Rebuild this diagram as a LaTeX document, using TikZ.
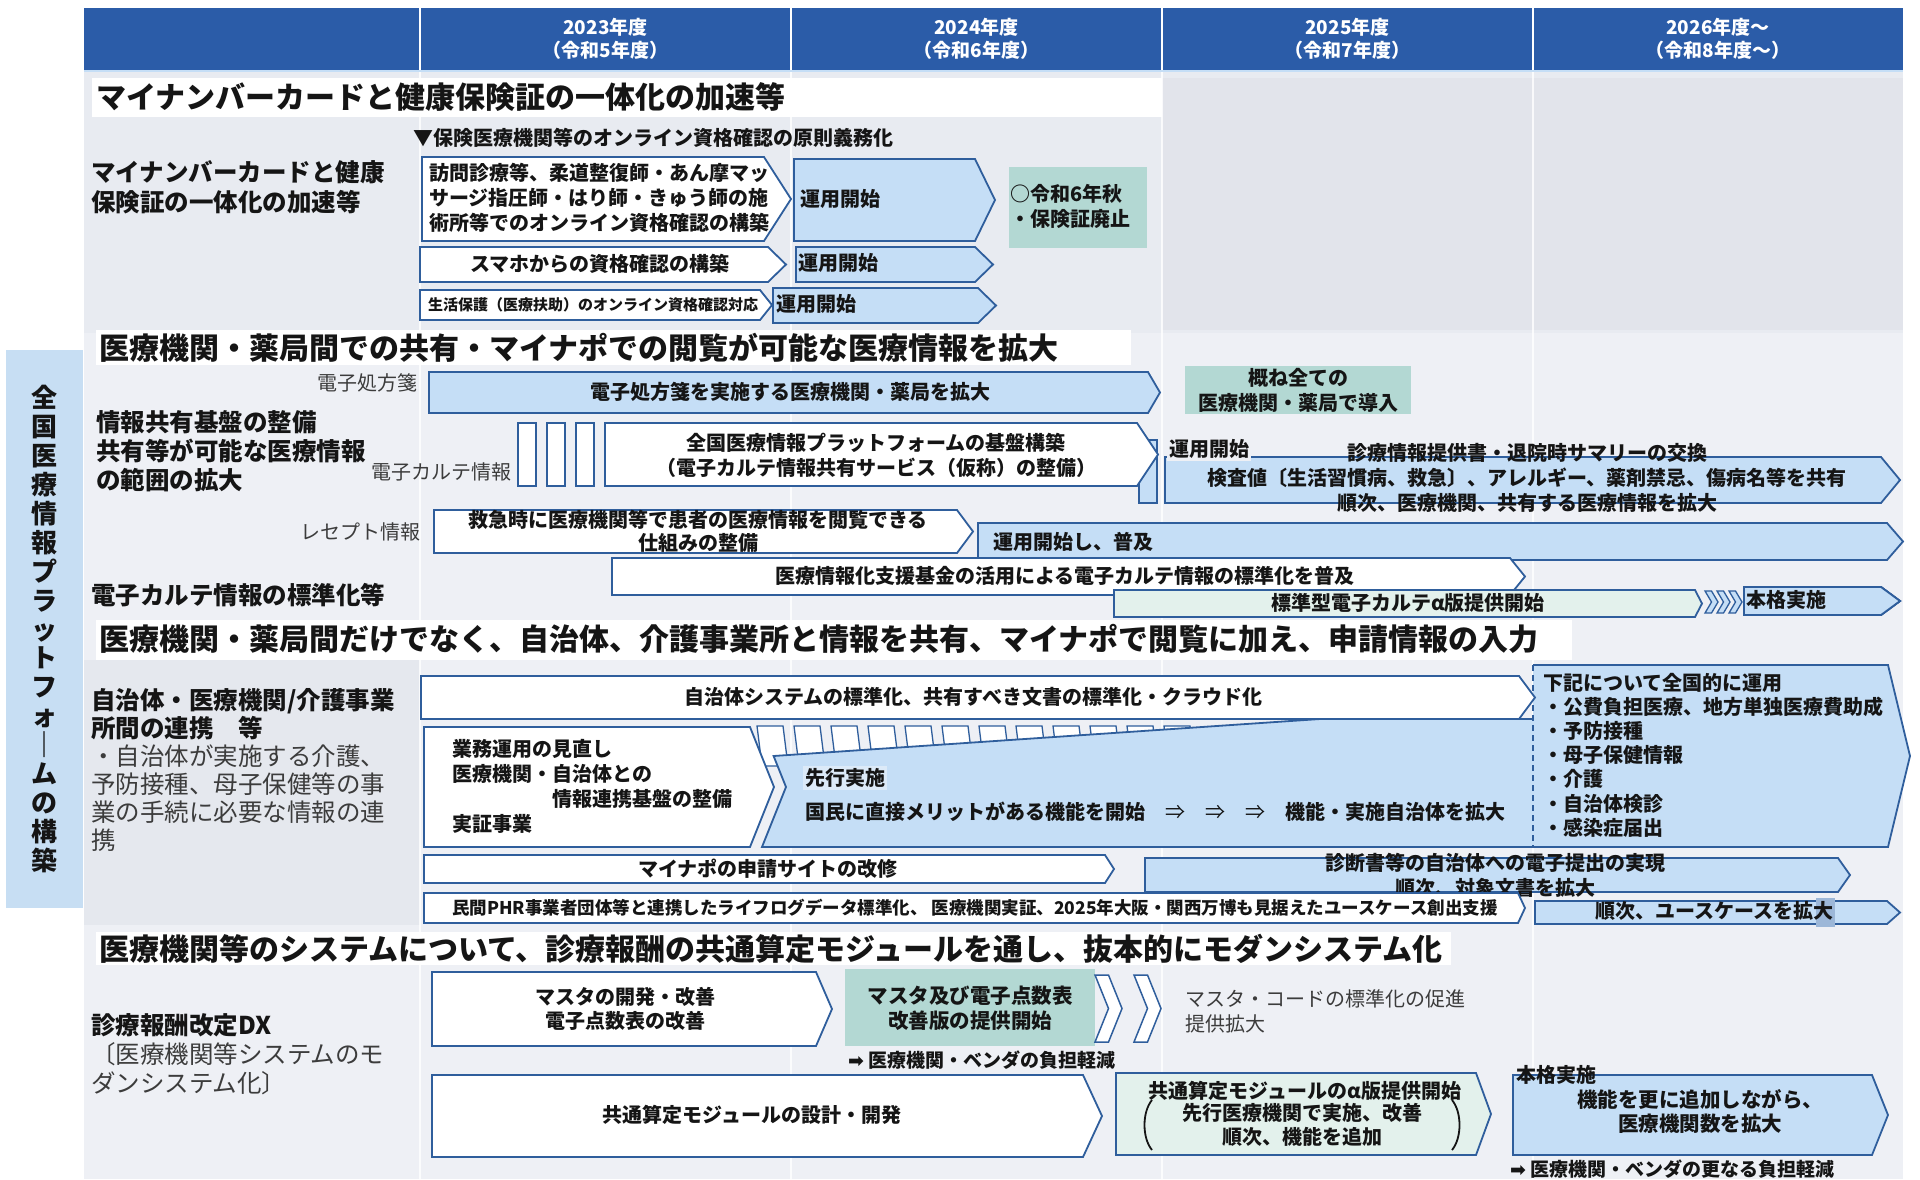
\documentclass[tikz,border=0pt]{standalone}
\usepackage{fontspec}
\setmainfont{Noto Sans CJK JP}
\newfontfamily\dv{DejaVu Sans}
\definecolor{hdr}{HTML}{2B5CA8}
\definecolor{bd}{HTML}{2F5E9C}
\definecolor{bl}{HTML}{C5DEF6}
\definecolor{tealb}{HTML}{B3D8D3}
\definecolor{mint}{HTML}{E3F1EC}
\definecolor{bgA}{HTML}{E8EBF1}
\definecolor{bgB}{HTML}{E2E4EB}
\definecolor{bgC}{HTML}{EEF0F5}
\definecolor{bgD}{HTML}{E5E8EE}
\definecolor{vbar}{HTML}{C7DEF3}
\definecolor{txt}{HTML}{151515}
\definecolor{gtxt}{HTML}{3C3C3C}
\definecolor{sq}{HTML}{9CB7D8}
\definecolor{lbl}{HTML}{DCEAF8}
\newcommand\fb[2]{\bfseries\fontsize{#1}{#2}\selectfont}
\newcommand\fr[2]{\mdseries\fontsize{#1}{#2}\selectfont}
\newcommand\shp[6]{\path[#1] (#2,#3) -- (#4,#3) -- (#5,{(#3+#6)/2}) -- (#4,#6) -- (#2,#6) -- cycle;}
\newcommand\chv[5]{\path[#1] (#2,#3) -- ++(#4,0) -- ++(#4,{(#5-#3)/2}) -- ++(-#4,{(#5-#3)/2}) -- ++(-#4,0) -- ++(#4,{-(#5-#3)/2}) -- cycle;}
\begin{document}
\begin{tikzpicture}[x=1pt,y=-1pt,
 tx/.style={inner sep=0pt,text=txt,font=\fb{20}{25}},
 tl/.style={tx,anchor=west,align=left},
 tc/.style={tx,align=center},
 gl/.style={inner sep=0pt,text=gtxt,font=\fr{20}{25}},
 wb/.style={draw=bd,line width=1.8pt,fill=white},
 bb/.style={draw=bd,line width=1.8pt,fill=bl},
 mb/.style={draw=bd,line width=1.8pt,fill=mint},
 ttl/.style={inner sep=0pt,anchor=west,text=txt,font=\fb{30}{34}},
 lab/.style={inner sep=0pt,anchor=west,align=left,text=txt,font=\fb{24.5}{29}}]
\useasboundingbox (0,0) rectangle (1920,1179);
\fill[white] (0,0) rectangle (1920,1179);
% backgrounds
\fill[bgA] (84,70) rectangle (1903,333);
\fill[bgB] (1162,78) rectangle (1903,330);
\fill[bgC] (84,333) rectangle (1903,1179);
\fill[bgD] (84,660) rectangle (420,925);
\foreach \x in {420,791,1162,1533} \draw[white,line width=1.5pt,opacity=0.8] (\x,70) -- (\x,1179);
% header
\fill[hdr] (84,8) rectangle (1903,70);
\foreach \x in {420,791,1162,1533} \draw[white,line width=2pt] (\x,8) -- (\x,70);
\draw[bl,line width=2pt] (84,71) -- (1903,71);
\node[tc,text=white,font=\fb{19}{23}] (h1) at (605.5,38.5) {2023年度\\（令和5年度）};
\node[tc,text=white,font=\fb{19}{23}] (h2) at (976.5,38.5) {2024年度\\（令和6年度）};
\node[tc,text=white,font=\fb{19}{23}] (h3) at (1347.5,38.5) {2025年度\\（令和7年度）};
\node[tc,text=white,font=\fb{19}{23}] (h4) at (1718,38.5) {2026年度～\\（令和8年度～）};
% section titles
\fill[white] (92,78) rectangle (1162,117);
\node[ttl] (t1) at (96,97.5) {マイナンバーカードと健康保険証の一体化の加速等};
\fill[white] (96,330) rectangle (1131,365);
\node[ttl] (t2) at (99,347.5) {医療機関・薬局間での共有・マイナポでの閲覧が可能な医療情報を拡大};
\fill[white] (96,620) rectangle (1572,660);
\node[ttl] (t3) at (99,639) {医療機関・薬局間だけでなく、自治体、介護事業所と情報を共有、マイナポで閲覧に加え、申請情報の入力};
\fill[white] (96,932) rectangle (1451,965);
\node[ttl] (t4) at (99,948.5) {医療機関等のシステムについて、診療報酬の共通算定モジュールを通し、抜本的にモダンシステム化};
% vertical bar
\fill[vbar] (6,350) rectangle (83,908);
\node[tc,font=\fb{26}{28.9}] (vt) at (44.5,629) {全\\国\\医\\療\\情\\報\\プ\\ラ\\ッ\\ト\\フ\\ォ\\｜\\ム\\の\\構\\築};
% left labels
\node[lab,font=\fb{24.5}{30}] (l1) at (91,187) {マイナンバーカードと健康\\保険証の一体化の加速等};
\node[lab] (l2) at (96,451) {情報共有基盤の整備\\共有等が可能な医療情報\\の範囲の拡大};
\node[lab] (l3) at (91,595) {電子カルテ情報の標準化等};
\node[lab,font=\fb{24.5}{28}] (l4) at (91,770) {自治体・医療機関/介護事業\\所間の連携　等\\{\mdseries\color{gtxt}・自治体が実施する介護、}\\{\mdseries\color{gtxt}予防接種、母子保健等の事}\\{\mdseries\color{gtxt}業の手続に必要な情報の連}\\{\mdseries\color{gtxt}携}};
\node[lab] (l5) at (91,1054) {診療報酬改定DX\\{\mdseries\color{gtxt}〔医療機関等システムのモ}\\{\mdseries\color{gtxt}ダンシステム化〕}};
% row labels
\node[gl,anchor=east] (r1) at (418,383) {電子処方箋};
\node[gl,anchor=east] (r2) at (512,472) {電子カルテ情報};
\node[gl,anchor=east] (r3) at (421,532) {レセプト情報};
% ===== section 1
\node[tl,font=\fb{20}{25}] (s1h) at (413,138) {▼保険医療機関等のオンライン資格確認の原則義務化};
\shp{wb}{422}{157}{764}{791}{241}
\node[tl] (a1) at (429,198) {訪問診療等、柔道整復師・あん摩マッ\\サージ指圧師・はり師・きゅう師の施\\術所等でのオンライン資格確認の構築};
\shp{bb}{794}{159}{975}{995}{241}
\node[tl] (b1) at (800,199) {運用開始};
\fill[tealb] (1009,167) rectangle (1147,248);
\node[tl] (g1) at (1010,206) {○令和6年秋\\・保険証廃止};
\shp{wb}{420}{247}{768}{786}{282}
\node[tc] (c1) at (600,264) {スマホからの資格確認の構築};
\shp{bb}{796}{247}{975}{993}{282}
\node[tl] (d1) at (798,263) {運用開始};
\shp{wb}{420}{290}{760}{772}{320}
\node[tl,font=\fb{15}{18}] (e1) at (428,305) {生活保護（医療扶助）のオンライン資格確認対応};
\shp{bb}{773}{288}{978}{996}{323}
\node[tl] (f1) at (776,304) {運用開始};
% ===== section 2
\shp{bb}{429}{372}{1148}{1160}{413}
\node[tc] (p1) at (790,392) {電子処方箋を実施する医療機関・薬局を拡大};
\fill[tealb] (1185,366) rectangle (1411,414);
\node[tc] (p2) at (1298,390) {概ね全ての\\医療機関・薬局で導入};
\foreach \x in {518,547,576} \path[wb,line width=1.4pt] (\x,423) rectangle ++(18,63);
\path[bb] (1139,440) rectangle (1157,503);
\shp{wb}{605}{423}{1137}{1158}{486}
\node[tc] (k1) at (876,455) {全国医療情報プラットフォームの基盤構築\\（電子カルテ情報共有サービス（仮称）の整備）};
\shp{bb}{1165}{457}{1881}{1900}{503}
\node[tl,fill=bgC,inner sep=2pt] (k2) at (1167,449) {運用開始};
\node[tc] (k3) at (1527,478) {診療情報提供書・退院時サマリーの交換\\検査値〔生活習慣病、救急〕、アレルギー、薬剤禁忌、傷病名等を共有\\順次、医療機関、共有する医療情報を拡大};
\shp{wb}{434}{510}{957}{973}{553}
\node[tc,font=\fb{20}{23}] (q1) at (698,531) {救急時に医療機関等で患者の医療情報を閲覧できる\\仕組みの整備};
\shp{bb}{978}{523}{1887}{1903}{560}
\node[tl] (q2) at (993,542) {運用開始し、普及};
\shp{wb}{612}{558}{1510}{1525}{595}
\node[tc] (q3) at (1065,576) {医療情報化支援基金の活用による電子カルテ情報の標準化を普及};
\shp{mb}{1114}{590}{1695}{1702}{617}
\node[tc] (q4) at (1408,603) {標準型電子カルテα版提供開始};
\foreach \x in {1705,1717,1729} \chv{draw=bd,line width=1.3pt,fill=bl}{\x}{591}{6.5}{613}
\shp{bb}{1744}{587}{1881}{1900}{615}
\node[tl] (q5) at (1746,600) {本格実施};
% ===== section 3
\foreach \i in {0,...,11} {\pgfmathsetmacro\xx{757+37*\i}
 \path[wb,line width=1.3pt] (\xx,726) -- ++(26,0) -- ++(5,40) -- ++(-26,0) -- cycle;}
\fill[bl] (773.6,756) -- (1320,719) -- (1533,719) -- (1533,847) -- (762,847) -- (786,787) -- cycle;
\draw[bd,line width=1.8pt] (1533,847) -- (762,847) -- (786,787) -- (773.6,756) -- (1320,719) -- (1533,719);
\fill[bl] (1533,665) -- (1888,665) -- (1910,756) -- (1888,847) -- (1533,847) -- cycle;
\draw[bd,line width=1.8pt] (1533,665) -- (1888,665) -- (1910,756) -- (1888,847) -- (1533,847);
\draw[bd,line width=1.5pt,dash pattern=on 6pt off 4pt] (1533,665) -- (1533,847);
\shp{wb}{421}{676}{1519}{1535}{719}
\node[tc] (m1) at (973,697) {自治体システムの標準化、共有すべき文書の標準化・クラウド化};
\shp{wb}{424}{727}{750}{774}{847}
\node[tl] (m2) at (452,786) {業務運用の見直し\\医療機関・自治体との\\\hspace{100pt}情報連携基盤の整備\\実証事業};
\node[tl,fill=lbl,inner sep=2pt] (m3) at (803,778) {先行実施};
\node[tl] (m4) at (805,812) {国民に直接メリットがある機能を開始　{\mdseries ⇒}　{\mdseries ⇒}　{\mdseries ⇒}　機能・実施自治体を拡大};
\node[tl,font=\fb{20}{24.2}] (m5) at (1543,755) {下記について全国的に運用\\・公費負担医療、地方単独医療費助成\\・予防接種\\・母子保健情報\\・介護\\・自治体検診\\・感染症届出};
\shp{wb}{424}{855}{1105}{1114}{883}
\node[tc] (m6) at (768,869) {マイナポの申請サイトの改修};
\shp{bb}{1145}{858}{1838}{1850}{892}
\node[tc] (m7) at (1495,875) {診断書等の自治体への電子提出の実現\\順次、対象文書を拡大};
\shp{wb}{424}{893}{1518}{1525}{923}
\node[tl,font=\fb{17.5}{20}] (m8) at (452,908) {民間PHR事業者団体等と連携したライフログデータ標準化、 医療機関実証、2025年大阪・関西万博も見据えたユースケース創出支援};
\shp{bb}{1535}{901}{1887}{1900}{924}
\fill[sq] (1816,898) rectangle (1835,927);
\node[tc] (m9) at (1714,911) {順次、ユースケースを拡大};
% ===== section 4
\shp{wb}{432}{972}{816}{832}{1046}
\node[tc,font=\fb{20}{23.5}] (x1) at (625,1009) {マスタの開発・改善\\電子点数表の改善};
\fill[tealb] (845,969) rectangle (1095,1046);
\node[tc,font=\fb{20.5}{25}] (x2) at (970,1008) {マスタ及び電子点数表\\改善版の提供開始};
\chv{draw=bd,line width=1.5pt,fill=white}{1095}{975}{13.5}{1042}
\chv{draw=bd,line width=1.5pt,fill=white}{1134}{975}{13.5}{1042}
\node[gl,anchor=west,align=left] (x3) at (1185,1011) {マスタ・コードの標準化の促進\\提供拡大};
\node[tl,font=\fb{19}{22}] (x4) at (848,1060) {{\dv ➡} 医療機関・ベンダの負担軽減};
\shp{wb}{432}{1075}{1083}{1102}{1157}
\node[tc] (x5) at (752,1115) {共通算定モジュールの設計・開発};
\shp{mb}{1116}{1073}{1476}{1491}{1155}
\node[tc] (x6) at (1305,1091) {共通算定モジュールのα版提供開始};
\node[tc,font=\fb{20}{24}] (x7) at (1302,1125) {先行医療機関で実施、改善\\順次、機能を追加};
\draw[txt,line width=1.8pt] (1152,1100) .. controls (1142,1112) and (1142,1138) .. (1152,1150);
\draw[txt,line width=1.8pt] (1452,1100) .. controls (1462,1112) and (1462,1138) .. (1452,1150);
\shp{bb}{1513}{1075}{1872}{1888}{1155}
\node[tl] (x8) at (1516,1075) {本格実施};
\node[tc,font=\fb{20.5}{24}] (x9) at (1700,1112) {機能を更に追加しながら、\\医療機関数を拡大};
\node[tl,font=\fb{19}{22}] (x10) at (1510,1169) {{\dv ➡} 医療機関・ベンダの更なる負担軽減};
\end{tikzpicture}
\end{document}
